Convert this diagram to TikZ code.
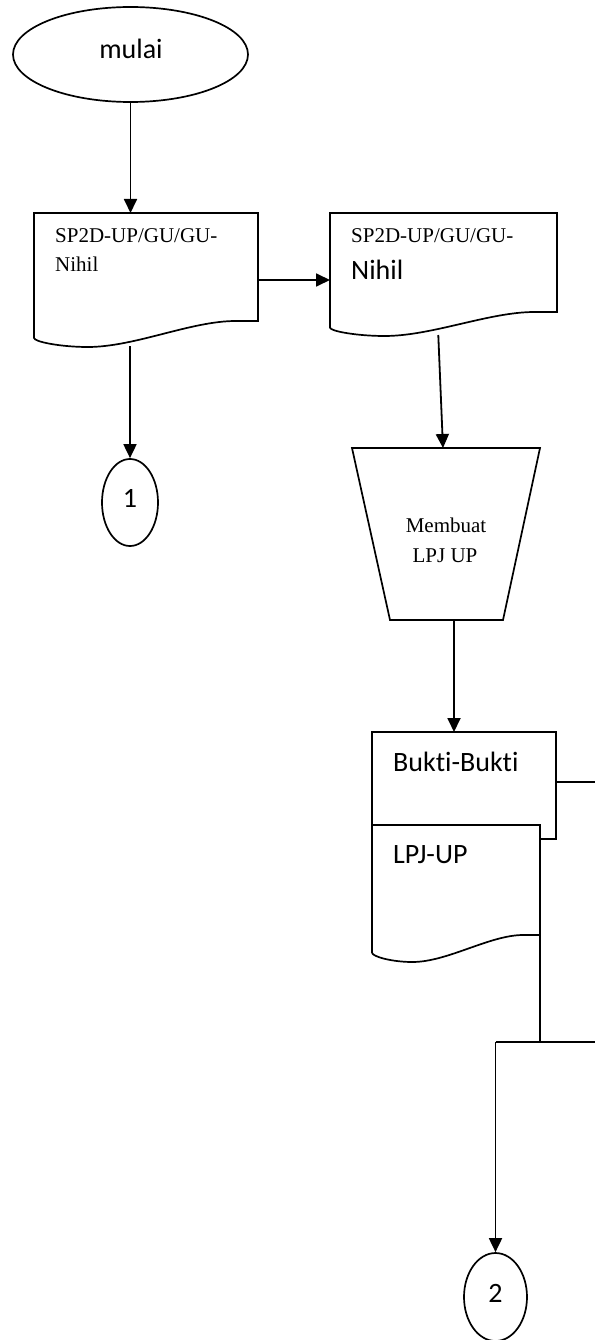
\documentclass[tikz,border=0pt]{standalone}
\usepackage{fontspec}
\setmainfont{Liberation Serif}
\newfontfamily\calibri[Ligatures=NoCommon]{Carlito}
\usetikzlibrary{calc,shapes.geometric,arrows.meta}

% outline of a "document" symbol: flat top, wavy bottom; #2 = depth of the wave
\newcommand\docoutline[2]{%
  \draw[outline]
    (#1.north west) -- (#1.north east) -- (#1.south east)
    -- ($(#1.south west)!0.9!(#1.south east)$)
    .. controls ($(#1.south west)!0.7!(#1.south east)$)
           and ($(#1.south west)!0.45!(#1.south east)+(0,#2)$)
    .. ($(#1.south west)!0.24!(#1.south east)+(0,#2)$)
    .. controls ($(#1.south west)!0.12!(#1.south east)+(0,#2)$)
           and ($(#1.south west)+(0,{0.8*#2})$)
    .. ($(#1.south west)+(0,{0.65*#2})$)
    -- cycle;}

\begin{document}
\begin{tikzpicture}[x=1pt,y=-1pt,
  outline/.style={line width=1.7pt,fill=white,line join=miter},
  frame/.style={rectangle,inner sep=0pt,outer sep=0pt},
  terminal/.style={ellipse,draw,line width=1.7pt,inner sep=0pt},
  sertext/.style={font=\fontsize{21}{28}\selectfont,inner sep=0pt},
  santext/.style={font=\calibri\fontsize{28}{34}\selectfont,inner sep=0pt},
  flow/.style={line width=1.8pt,-{Triangle[length=14pt,width=13pt]}},
  plain/.style={line width=1.8pt}]
\useasboundingbox (0,0) rectangle (595,1340);

% start
\node[terminal,minimum width=235pt,minimum height=95pt] (mulai) at (130.5,54.5) {};
\node[santext,anchor=base] (mulaitxt) at (131,59) {mulai};

% first document
\node[frame,anchor=north west,minimum width=224pt,minimum height=108pt] (d1) at (34,213) {};
\docoutline{d1}{26}
\node[sertext,anchor=base west] (d1a) at (55,243) {SP2D-UP/GU/GU-};
\node[sertext,anchor=base west] (d1b) at (55,272) {Nihil};

% second document
\node[frame,anchor=north west,minimum width=227pt,minimum height=99pt] (d2) at (330,213) {};
\docoutline{d2}{24}
\node[sertext,anchor=base west] (d2a) at (351,243) {SP2D-UP/GU/GU-};
\node[santext,anchor=base west] (d2b) at (351,279) {Nihil};

% connector 1
\node[terminal,minimum width=56pt,minimum height=87pt] (c1) at (130,502.5) {};
\node[santext,anchor=base] (c1t) at (130,507) {1};

% manual operation
\node[frame,anchor=north west,minimum width=188pt,minimum height=172pt] (trap) at (352,448) {};
\draw[outline] (trap.north west) -- (trap.north east)
  -- ($(trap.south east)+(-37,0)$) -- ($(trap.south west)+(38,0)$) -- cycle;
\node[sertext,anchor=base] (trapa) at (446,532) {Membuat};
\node[sertext,anchor=base] (trapb) at (445,562) {LPJ UP};

% stacked documents
\node[frame,anchor=north west,minimum width=184pt,minimum height=107pt] (bukti) at (372,732) {};
\draw[outline] (bukti.north west) rectangle (bukti.south east);
\node[santext,anchor=base west] (buktit) at (393,771) {Bukti-Bukti};
\node[frame,anchor=north west,minimum width=168pt,minimum height=110pt] (lpj) at (372,825) {};
\docoutline{lpj}{27}
\node[santext,anchor=base west] (lpjt) at (393,863) {LPJ-UP};

% connector 2
\node[terminal,minimum width=63pt,minimum height=88pt] (c2) at (495.5,1297) {};
\node[santext,anchor=base] (c2t) at (495.5,1302) {2};

% off-page ends and junction
\coordinate (r1) at (595,782);
\coordinate (j) at (540,1042);
\coordinate (r2) at (595,1042);

% connectors
\draw[flow] (mulai.south) -- (mulai.south |- d1.north);
\draw[flow] ($(c1.north |- d1.south)+(0,25)$) -- (c1.north);
\draw[flow] ([yshift=-13pt]d1.east) -- ([yshift=-13pt]d1.east -| d2.west);
\draw[flow] ($(d2.south west)!0.477!(d2.south east)+(0,23)$) -- ($(trap.north west)!0.484!(trap.north east)$);
\draw[flow] ([xshift=8pt]trap.south) -- ([xshift=8pt]trap.south |- bukti.north);
\draw[plain] ([yshift=3.5pt]bukti.east) -- (r1);
\draw[plain] (lpj.south east) -- (j);
\draw[plain] (c2.north |- j) -- (r2);
\draw[flow] (c2.north |- j) -- (c2.north);
\end{tikzpicture}
\end{document}
